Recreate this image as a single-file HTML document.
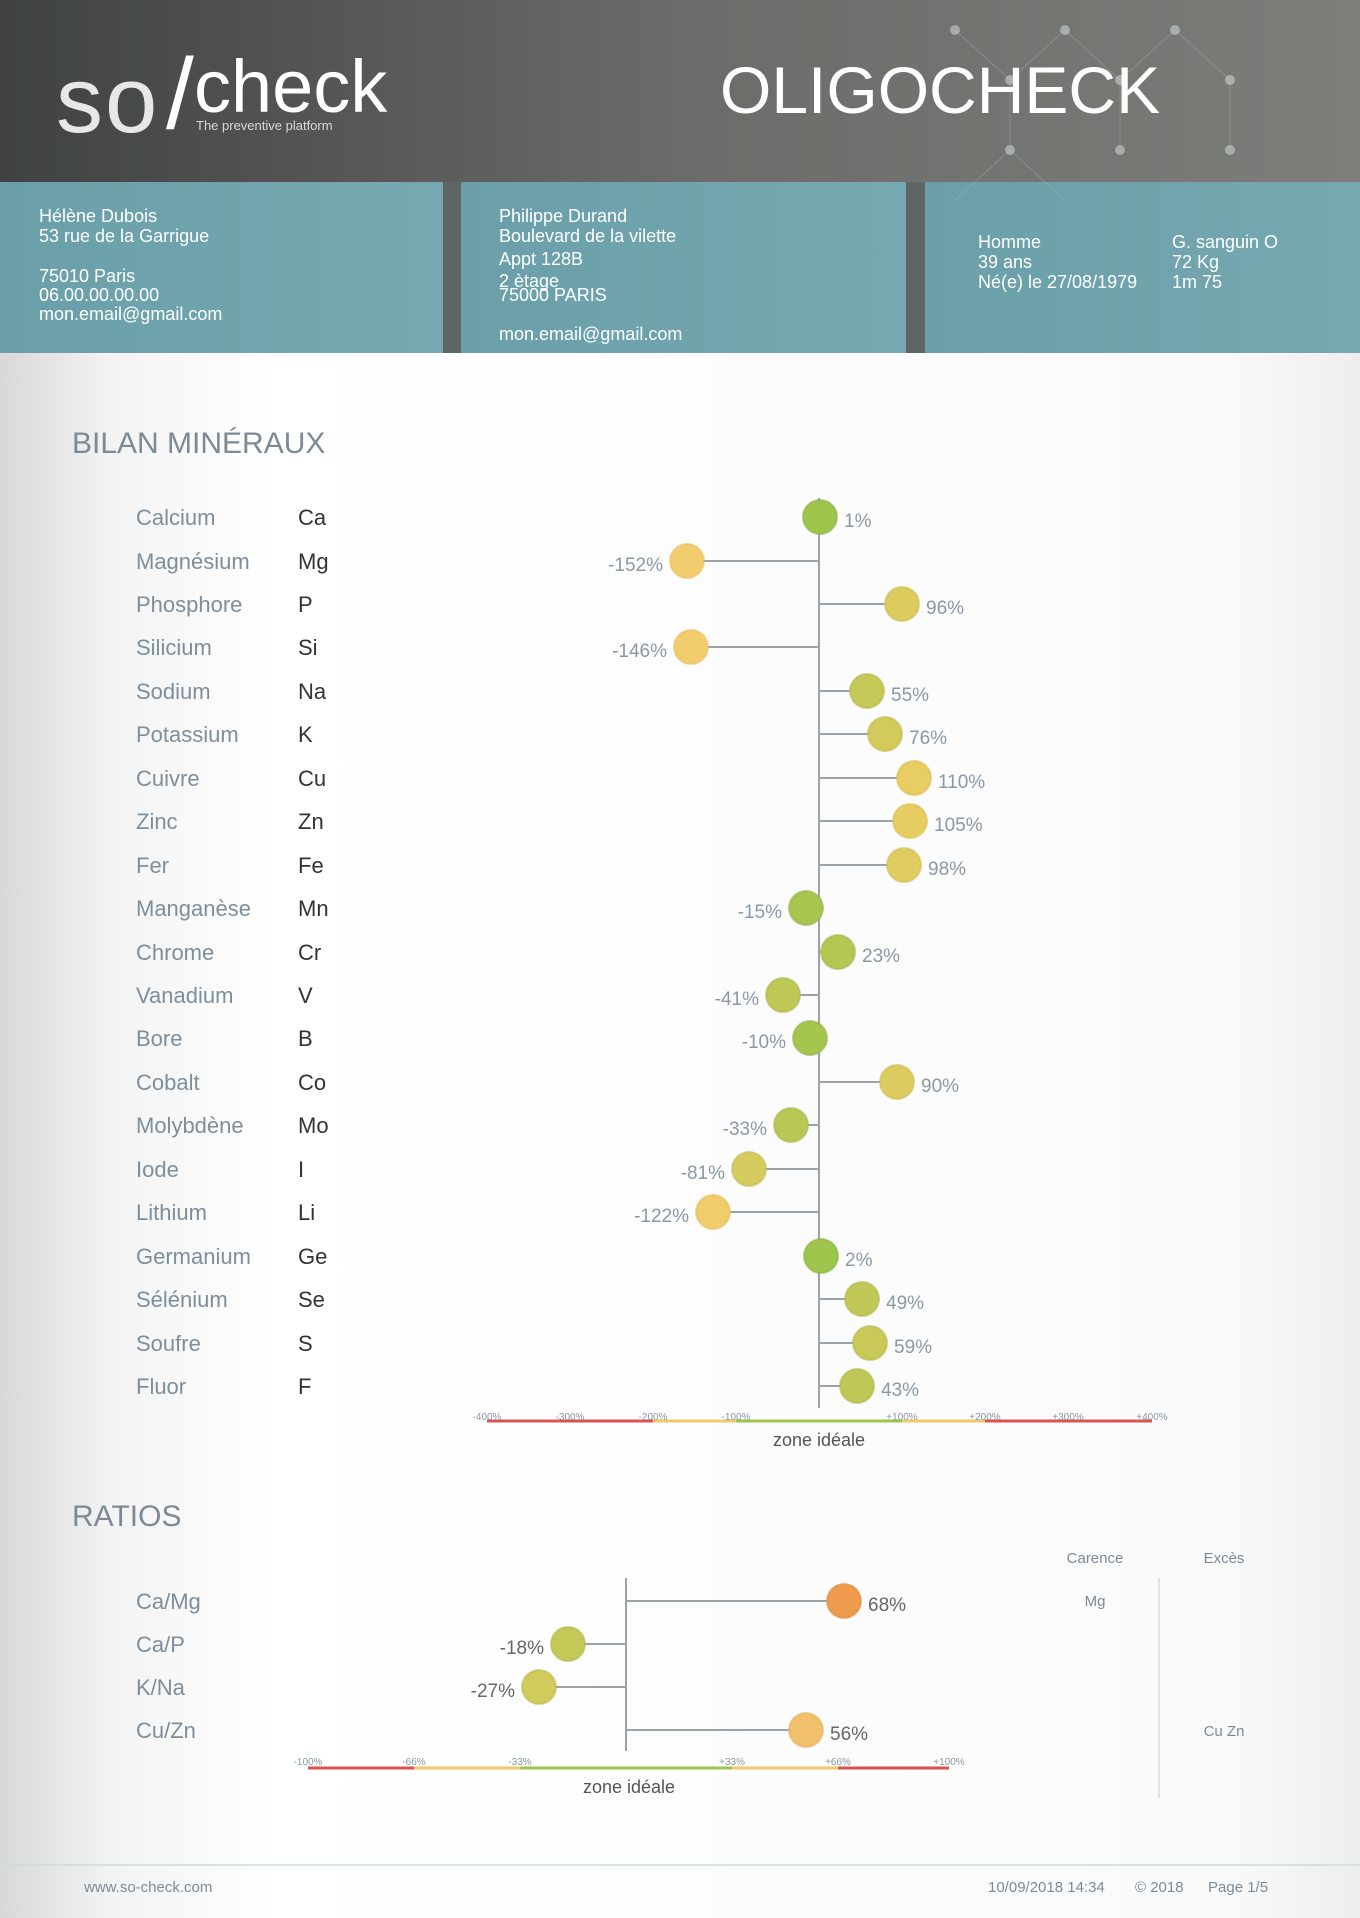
<!DOCTYPE html>
<html><head><meta charset="utf-8"><style>
html,body{margin:0;padding:0;width:1360px;height:1918px;overflow:hidden;}
body{font-family:"Liberation Sans",sans-serif;}
</style></head><body>
<svg width="1360" height="1918" viewBox="0 0 1360 1918" xmlns="http://www.w3.org/2000/svg" font-family="Liberation Sans, sans-serif">
<defs>
<linearGradient id="hd" x1="0" x2="1" y1="0" y2="0"><stop offset="0" stop-color="#3f4242"/><stop offset="0.5" stop-color="#6a6c69"/><stop offset="1" stop-color="#7c7e7a"/></linearGradient>
<linearGradient id="bx" x1="0" x2="1" y1="0" y2="0"><stop offset="0" stop-color="#6a9fa9"/><stop offset="1" stop-color="#76a8b1"/></linearGradient>
<linearGradient id="bg" x1="0" x2="1" y1="0" y2="0"><stop offset="0" stop-color="#d8d8d8"/><stop offset="0.08" stop-color="#f3f3f3"/><stop offset="0.2" stop-color="#ffffff"/><stop offset="0.9" stop-color="#fafafa"/><stop offset="1" stop-color="#eeeeee"/></linearGradient>
</defs>
<rect width="1360" height="1918" fill="url(#bg)"/>
<rect width="1360" height="182" fill="url(#hd)"/>
<rect y="182" width="1360" height="171" fill="#5f6563"/>
<rect x="0" y="182" width="443" height="171" fill="url(#bx)"/>
<rect x="461" y="182" width="445" height="171" fill="url(#bx)"/>
<rect x="925" y="182" width="435" height="171" fill="url(#bx)"/>
<g stroke="#a9b6b4" stroke-width="1" fill="none" opacity="0.35">
<path d="M955 30 L1010 80 L1065 30 M1010 80 L1010 150 L955 200 M1010 150 L1065 200 M1065 30 L1120 80 L1175 30 L1230 80 L1230 150 M1120 80 L1120 150"/>
</g>
<g fill="#c8d0d0" opacity="0.6">
<circle cx="955" cy="30" r="5"/><circle cx="1010" cy="80" r="5"/><circle cx="1065" cy="30" r="5"/><circle cx="1120" cy="80" r="5"/><circle cx="1175" cy="30" r="5"/><circle cx="1230" cy="80" r="5"/><circle cx="1010" cy="150" r="5"/><circle cx="1120" cy="150" r="5"/><circle cx="1230" cy="150" r="5"/>
</g>
<text x="56" y="132" font-size="94" fill="#e6e8e8" letter-spacing="2">so</text>
<text x="166" y="128" font-size="100" fill="#ffffff" transform="rotate(0)">/</text>
<text x="194" y="112" font-size="74" fill="#ffffff">check</text>
<text x="196" y="130" font-size="13" fill="#d8d8d8">The preventive platform</text>
<text x="720" y="113" font-size="66" fill="#ffffff">OLIGOCHECK</text>
<g font-size="18" fill="#ffffff">
<text x="39" y="222">Hélène Dubois</text>
<text x="39" y="242">53 rue de la Garrigue</text>
<text x="39" y="282">75010 Paris</text>
<text x="39" y="301">06.00.00.00.00</text>
<text x="39" y="320">mon.email@gmail.com</text>
<text x="499" y="222">Philippe Durand</text>
<text x="499" y="242">Boulevard de la vilette</text>
<text x="499" y="265">Appt 128B</text>
<text x="499" y="287">2 ètage</text>
<text x="499" y="301">75000 PARIS</text>
<text x="499" y="340">mon.email@gmail.com</text>
<text x="978" y="248">Homme</text>
<text x="978" y="268">39 ans</text>
<text x="978" y="288">Né(e) le 27/08/1979</text>
<text x="1172" y="248">G. sanguin O</text>
<text x="1172" y="268">72 Kg</text>
<text x="1172" y="288">1m 75</text>
</g>
<text x="72" y="453" font-size="30" fill="#7d8a96">BILAN MINÉRAUX</text>
<line x1="819" y1="498" x2="819" y2="1408" stroke="#9aa3a8" stroke-width="2"/>
<g font-size="22">
<g fill="#7d8e9c">
<text x="136" y="525">Calcium</text><text x="136" y="569">Magnésium</text><text x="136" y="612">Phosphore</text><text x="136" y="655">Silicium</text><text x="136" y="699">Sodium</text><text x="136" y="742">Potassium</text><text x="136" y="786">Cuivre</text><text x="136" y="829">Zinc</text><text x="136" y="873">Fer</text><text x="136" y="916">Manganèse</text><text x="136" y="960">Chrome</text><text x="136" y="1003">Vanadium</text><text x="136" y="1046">Bore</text><text x="136" y="1090">Cobalt</text><text x="136" y="1133">Molybdène</text><text x="136" y="1177">Iode</text><text x="136" y="1220">Lithium</text><text x="136" y="1264">Germanium</text><text x="136" y="1307">Sélénium</text><text x="136" y="1351">Soufre</text><text x="136" y="1394">Fluor</text>
</g>
<g fill="#333">
<text x="298" y="525">Ca</text><text x="298" y="569">Mg</text><text x="298" y="612">P</text><text x="298" y="655">Si</text><text x="298" y="699">Na</text><text x="298" y="742">K</text><text x="298" y="786">Cu</text><text x="298" y="829">Zn</text><text x="298" y="873">Fe</text><text x="298" y="916">Mn</text><text x="298" y="960">Cr</text><text x="298" y="1003">V</text><text x="298" y="1046">B</text><text x="298" y="1090">Co</text><text x="298" y="1133">Mo</text><text x="298" y="1177">I</text><text x="298" y="1220">Li</text><text x="298" y="1264">Ge</text><text x="298" y="1307">Se</text><text x="298" y="1351">S</text><text x="298" y="1394">F</text>
</g>
</g>
<g stroke="#9aa3a8" stroke-width="2">
<line x1="819" y1="561" x2="693" y2="561"/><line x1="819" y1="604" x2="899" y2="604"/><line x1="819" y1="647" x2="698" y2="647"/><line x1="819" y1="691" x2="865" y2="691"/><line x1="819" y1="734" x2="882" y2="734"/><line x1="819" y1="778" x2="910" y2="778"/><line x1="819" y1="821" x2="906" y2="821"/><line x1="819" y1="865" x2="900" y2="865"/><line x1="819" y1="908" x2="807" y2="908"/><line x1="819" y1="952" x2="838" y2="952"/><line x1="819" y1="995" x2="785" y2="995"/><line x1="819" y1="1038" x2="811" y2="1038"/><line x1="819" y1="1082" x2="894" y2="1082"/><line x1="819" y1="1125" x2="792" y2="1125"/><line x1="819" y1="1169" x2="752" y2="1169"/><line x1="819" y1="1212" x2="718" y2="1212"/><line x1="819" y1="1299" x2="860" y2="1299"/><line x1="819" y1="1343" x2="868" y2="1343"/><line x1="819" y1="1386" x2="855" y2="1386"/>
</g>
<g stroke-width="2" stroke-opacity="0.6">
<circle cx="820" cy="517" r="17" fill="#9fc44c" stroke="#8ab040"/>
<circle cx="687" cy="561" r="17" fill="#f2cd6e" stroke="#e8c060"/>
<circle cx="902" cy="604" r="17" fill="#dccc5e" stroke="#cbbd50"/>
<circle cx="691" cy="647" r="17" fill="#f2cd6e" stroke="#e8c060"/>
<circle cx="867" cy="691" r="17" fill="#c5c958" stroke="#b4b84c"/>
<circle cx="885" cy="734" r="17" fill="#d2cb5c" stroke="#c0ba50"/>
<circle cx="914" cy="778" r="17" fill="#e8cd62" stroke="#d8bd55"/>
<circle cx="910" cy="821" r="17" fill="#e6cd62" stroke="#d8bd55"/>
<circle cx="904" cy="865" r="17" fill="#e0cc60" stroke="#d0bc52"/>
<circle cx="806" cy="908" r="17" fill="#a8c64f" stroke="#95b444"/>
<circle cx="838" cy="952" r="17" fill="#b3c752" stroke="#a0b546"/>
<circle cx="783" cy="995" r="17" fill="#bdc856" stroke="#aab64a"/>
<circle cx="810" cy="1038" r="17" fill="#a4c54e" stroke="#90b243"/>
<circle cx="897" cy="1082" r="17" fill="#dccc5f" stroke="#cbbc52"/>
<circle cx="791" cy="1125" r="17" fill="#b9c754" stroke="#a6b548"/>
<circle cx="749" cy="1169" r="17" fill="#d5cb5e" stroke="#c4ba50"/>
<circle cx="713" cy="1212" r="17" fill="#f0cd6a" stroke="#e2bf5d"/>
<circle cx="821" cy="1256" r="17" fill="#9fc44c" stroke="#8ab040"/>
<circle cx="862" cy="1299" r="17" fill="#c2c857" stroke="#b0b74b"/>
<circle cx="870" cy="1343" r="17" fill="#c8c959" stroke="#b6b84c"/>
<circle cx="857" cy="1386" r="17" fill="#bfc856" stroke="#adb74a"/>
</g>
<g font-size="19" fill="#8a98a6">
<text x="844" y="527">1%</text>
<text x="663" y="571" text-anchor="end">-152%</text>
<text x="926" y="614">96%</text>
<text x="667" y="657" text-anchor="end">-146%</text>
<text x="891" y="701">55%</text>
<text x="909" y="744">76%</text>
<text x="938" y="788">110%</text>
<text x="934" y="831">105%</text>
<text x="928" y="875">98%</text>
<text x="782" y="918" text-anchor="end">-15%</text>
<text x="862" y="962">23%</text>
<text x="759" y="1005" text-anchor="end">-41%</text>
<text x="786" y="1048" text-anchor="end">-10%</text>
<text x="921" y="1092">90%</text>
<text x="767" y="1135" text-anchor="end">-33%</text>
<text x="725" y="1179" text-anchor="end">-81%</text>
<text x="689" y="1222" text-anchor="end">-122%</text>
<text x="845" y="1266">2%</text>
<text x="886" y="1309">49%</text>
<text x="894" y="1353">59%</text>
<text x="881" y="1396">43%</text>
</g>
<g stroke-width="3">
<line x1="487" y1="1421" x2="653" y2="1421" stroke="#d9534f"/>
<line x1="653" y1="1421" x2="736" y2="1421" stroke="#f0c96a"/>
<line x1="736" y1="1421" x2="902" y2="1421" stroke="#9fc44c"/>
<line x1="902" y1="1421" x2="985" y2="1421" stroke="#f0c96a"/>
<line x1="985" y1="1421" x2="1152" y2="1421" stroke="#d9534f"/>
</g>
<g font-size="10" fill="#8a98a6" text-anchor="middle">
<text x="487" y="1420">-400%</text><text x="570" y="1420">-300%</text><text x="653" y="1420">-200%</text><text x="736" y="1420">-100%</text><text x="902" y="1420">+100%</text><text x="985" y="1420">+200%</text><text x="1068" y="1420">+300%</text><text x="1152" y="1420">+400%</text>
</g>
<text x="819" y="1446" font-size="18" fill="#555" text-anchor="middle">zone idéale</text>
<text x="72" y="1526" font-size="30" fill="#7d8a96">RATIOS</text>
<g font-size="15" fill="#7d8a96" text-anchor="middle">
<text x="1095" y="1563">Carence</text><text x="1224" y="1563">Excès</text>
<text x="1095" y="1606">Mg</text><text x="1224" y="1736">Cu Zn</text>
</g>
<line x1="1159" y1="1578" x2="1159" y2="1798" stroke="#d8dcdf" stroke-width="1.5"/>
<g font-size="22" fill="#7d8e9c">
<text x="136" y="1609">Ca/Mg</text><text x="136" y="1652">Ca/P</text><text x="136" y="1695">K/Na</text><text x="136" y="1738">Cu/Zn</text>
</g>
<line x1="626" y1="1578" x2="626" y2="1751" stroke="#9aa3a8" stroke-width="2"/>
<g stroke="#9aa3a8" stroke-width="2">
<line x1="626" y1="1601" x2="844" y2="1601"/><line x1="626" y1="1644" x2="568" y2="1644"/><line x1="626" y1="1687" x2="539" y2="1687"/><line x1="626" y1="1730" x2="806" y2="1730"/>
</g>
<g stroke-width="2" stroke-opacity="0.6">
<circle cx="844" cy="1601" r="17" fill="#ee9b4e" stroke="#dd8a40"/>
<circle cx="568" cy="1644" r="17" fill="#c5c958" stroke="#b4b84c"/>
<circle cx="539" cy="1687" r="17" fill="#cfcb5c" stroke="#bdba50"/>
<circle cx="806" cy="1730" r="17" fill="#f2c06a" stroke="#e2b05c"/>
</g>
<g font-size="19" fill="#666">
<text x="868" y="1611">68%</text>
<text x="544" y="1654" text-anchor="end">-18%</text>
<text x="515" y="1697" text-anchor="end">-27%</text>
<text x="830" y="1740">56%</text>
</g>
<g stroke-width="3">
<line x1="308" y1="1768" x2="414" y2="1768" stroke="#d9534f"/>
<line x1="414" y1="1768" x2="520" y2="1768" stroke="#f0c96a"/>
<line x1="520" y1="1768" x2="732" y2="1768" stroke="#9fc44c"/>
<line x1="732" y1="1768" x2="838" y2="1768" stroke="#f0c96a"/>
<line x1="838" y1="1768" x2="949" y2="1768" stroke="#d9534f"/>
</g>
<g font-size="10" fill="#8a98a6" text-anchor="middle">
<text x="308" y="1765">-100%</text><text x="414" y="1765">-66%</text><text x="520" y="1765">-33%</text><text x="732" y="1765">+33%</text><text x="838" y="1765">+66%</text><text x="949" y="1765">+100%</text>
</g>
<text x="629" y="1793" font-size="18" fill="#555" text-anchor="middle">zone idéale</text>
<line x1="0" y1="1865" x2="1360" y2="1865" stroke="#c5dde3" stroke-width="1.5"/>
<g font-size="15" fill="#7d8a96">
<text x="84" y="1892">www.so-check.com</text>
<text x="988" y="1892">10/09/2018 14:34</text>
<text x="1135" y="1892">© 2018</text>
<text x="1208" y="1892">Page 1/5</text>
</g>
</svg>
</body></html>
